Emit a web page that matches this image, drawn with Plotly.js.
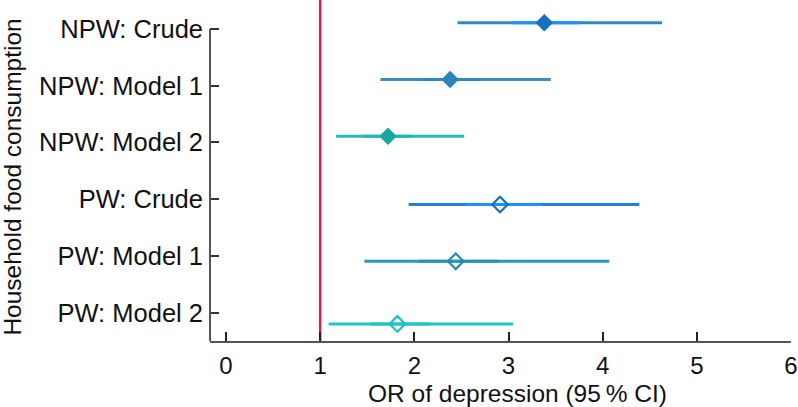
<!DOCTYPE html>
<html>
<head>
<meta charset="utf-8">
<script src="https://cdn.plot.ly/plotly-3.0.1.min.js"></script>
<style>html,body{margin:0;padding:0;background:#fff;}#chart{width:798px;height:407px;}</style>
</head>
<body>
<div id="chart"></div>
<script>
// ---- data ----
const labels = ["NPW: Crude", "NPW: Model 1", "NPW: Model 2", "PW: Crude", "PW: Model 1", "PW: Model 2"];
const oddsRatio = [3.38, 2.38, 1.72, 2.91, 2.44, 1.82];
const ciLow = [2.46, 1.64, 1.17, 1.94, 1.47, 1.09];
const ciHigh = [4.63, 3.45, 2.53, 4.39, 4.07, 3.05];
const innerLow = [3.04, 2.09, 1.45, 2.54, 2.04, 1.53];
const innerHigh = [3.76, 2.70, 1.97, 3.35, 2.89, 2.17];
const xTicks = [0, 1, 2, 3, 4, 5, 6];
const referenceOR = 1;

// ---- styles / layout helpers ----
const rowOffset = [0.11, 0.11, 0.11, -0.094, -0.095, -0.2];
const lineColor = ["#2b8ccc", "#3b8fbd", "#22bcbc", "#2283cc", "#2b95b8", "#22c4c4"];
const innerColor = ["#1e90ff", "#2f86bb", "#20b8b6", "#1e90ff", "#2b92b4", "#21c2c2"];
const markerColor = ["#1670bd", "#2a86b8", "#1aa59f", "#1a6fb5", "#2a89aa", "#22bfbf"];
const filled = [true, true, true, false, false, false];

const FONT = "Liberation Sans, Arial, Helvetica, sans-serif";
const n = labels.length;
const rowPos = labels.map((_, i) => n - i);

const traces = [];
labels.forEach((lab, i) => {
  const y = rowPos[i] + rowOffset[i];
  traces.push({
    type: "scatter", mode: "lines", x: [ciLow[i], ciHigh[i]], y: [y, y],
    line: {color: lineColor[i], width: 3}, hoverinfo: "skip", showlegend: false
  });
  traces.push({
    type: "scatter", mode: "lines", x: [innerLow[i], innerHigh[i]], y: [y, y],
    line: {color: innerColor[i], width: 3}, hoverinfo: "skip", showlegend: false
  });
  traces.push({
    type: "scatter", mode: "markers", x: [oddsRatio[i]], y: [y], name: lab,
    marker: filled[i]
      ? {symbol: "diamond", size: 13.5, color: markerColor[i], line: {width: 0}}
      : {symbol: "diamond-open", size: 12, color: markerColor[i], line: {width: 2.2, color: markerColor[i]}},
    showlegend: false
  });
});

const layout = {
  width: 798, height: 407,
  margin: {l: 210, r: 7, t: 0, b: 66},
  paper_bgcolor: "#fff", plot_bgcolor: "#fff",
  font: {family: FONT, color: "#111", size: 23},
  xaxis: {
    range: [-0.17, 6], tickvals: xTicks, ticktext: xTicks.map(String),
    ticks: "inside", ticklen: 9, tickwidth: 2, tickcolor: "#222",
    showline: true, linecolor: "#555", linewidth: 2,
    showgrid: false, zeroline: false, ticklabelstandoff: 2,
    tickfont: {family: FONT, size: 24, color: "#111"}
  },
  yaxis: {
    range: [0.5, 6.51], tickvals: rowPos, ticktext: labels,
    ticks: "inside", ticklen: 9, tickwidth: 2, tickcolor: "#333",
    showline: false, showgrid: false, zeroline: false, ticklabelstandoff: 6,
    tickfont: {family: FONT, size: 25.5, color: "#111"}
  },
  shapes: [
    {type: "line", xref: "paper", x0: 0, x1: 0, yref: "y", y0: 0.5, y1: rowPos[0],
     line: {color: "#555", width: 2}},
    {type: "line", xref: "x", x0: referenceOR, x1: referenceOR, yref: "paper", y0: 0, y1: 1,
     line: {color: "#d81e4f", width: 2.5}, layer: "below"}
  ],
  annotations: [
    {text: "OR of depression (95\u2009% CI)", xref: "paper", yref: "paper", x: 0.529, y: -0.1535,
     xanchor: "center", yanchor: "middle", showarrow: false, font: {family: FONT, size: 24.5, color: "#111"}},
    {text: "Household food consumption", xref: "paper", yref: "paper", x: -0.340, y: 0.4805,
     xanchor: "center", yanchor: "middle", textangle: -90, showarrow: false,
     font: {family: FONT, size: 24.5, color: "#111"}}
  ]
};

Plotly.newPlot("chart", traces, layout, {staticPlot: true, displayModeBar: false});
</script>
</body>
</html>
